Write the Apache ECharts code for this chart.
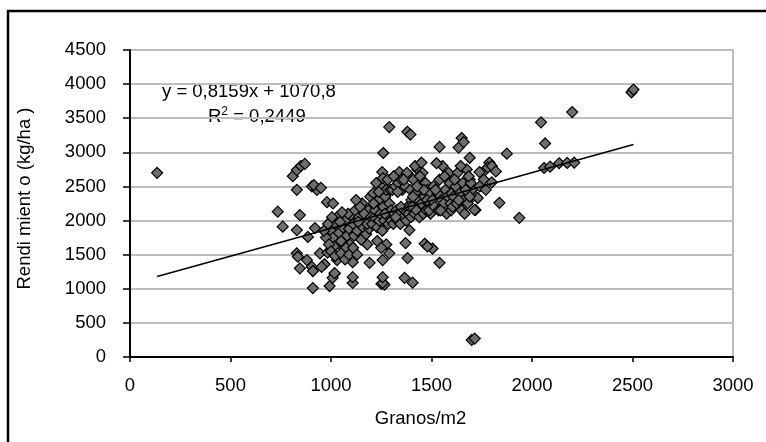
<!DOCTYPE html>
<html>
<head>
<meta charset="utf-8">
<script src="https://cdn.jsdelivr.net/npm/echarts@6/dist/echarts.min.js"></script>
<style>
html,body{margin:0;padding:0;background:#fff;}
#chart{width:766px;height:442px;}
</style>
</head>
<body>
<div id="chart"></div>
<script>
// Granos/m2 (x) and Rendimiento kg/ha (y)
const granos = [
 135,2495,2505,1700,1715,1937,2200,2045,2065,2060,2090,2135,2175,2210,1875,1290,1380,1395,1540,1650,1635,1660,1690,1260,1255,1340,
 810,830,850,870,830,905,930,915,980,1010,950,735,845,760,830,920,885,830,835,880,905,845,910,945,968,1018,910,993,1008,1108,1251,1266,983,953,1108,1192,1018,1030,1060,
 1371,1466,1505,1381,1540,1366,1406,1290,1275,1257,1390,1480,1257,1108,1257,1250,1230,1180,
 1788,1753,1739,1838,1719,1714,1780,1800,1820,1760,1740,1770,1710,1690,1700,1730,1680,1800,
 1000,1010,1020,1030,1040,1050,1060,1070,1080,1090,1100,1095,1045,1075,1085,1015,1055,
 1110,1115,1120,1130,1140,1150,1155,1160,1170,1175,1185,1190,1195,1125,1145,1165,1180,1135,1198,
 1205,1210,1215,1220,1230,1235,1240,1245,1250,1255,1260,1265,1270,1275,1280,1285,1290,1295,1225,1258,1300,1298,1212,1268,1238,1282,
 1305,1310,1315,1320,1325,1330,1335,1340,1345,1350,1355,1360,1365,1370,1375,1380,1385,1390,1395,1400,1312,1348,1378,1398,1322,1332,1362,1392,
 1405,1410,1415,1420,1425,1430,1435,1440,1445,1450,1455,1460,1465,1470,1475,1480,1485,1490,1495,1418,1442,1488,1462,1450,1408,1428,1478,
 1505,1510,1515,1530,1535,1540,1550,1555,1560,1570,1575,1580,1590,1595,1600,1545,1585,1525,1565,1520,1598,
 1605,1610,1620,1625,1630,1640,1650,1655,1660,1670,1675,1680,1690,1695,1615,1645,1665,1635,1685,
 975,990,1000,1020,1050,1070,1090,1110,1130,965,985,1005
];
const rendimiento = [
 2700,3880,3920,250,270,2040,3590,3440,3130,2770,2790,2840,2845,2850,2980,3370,3300,3260,3080,3210,3070,3150,2920,2990,2710,2710,
 2650,2740,2800,2830,2450,2500,2450,2520,2270,2250,2480,2130,2080,1910,1860,1890,1760,1520,1470,1420,1320,1300,1260,1520,1360,1220,1010,1040,1160,1085,1070,1060,1530,1320,1390,1380,1230,1420,1600,
 1670,1660,1590,1450,1380,1160,1090,1520,1650,1085,1860,1620,1420,1170,1170,1600,1700,1650,
 2850,2700,2710,2260,2155,2155,2780,2800,2720,2600,2500,2450,2380,2600,2450,2330,2280,2560,
 1850,1750,1950,2050,1820,1700,1900,2000,1780,1880,2080,1650,1980,1600,2100,1620,2120,
 1950,1780,2150,1850,2050,1720,2250,1900,2000,1800,2150,1880,2350,2300,2200,2100,1950,1980,2050,
 1950,2400,2050,2150,1900,2300,2000,2100,2500,1850,2200,2000,2350,2450,2100,1950,2250,2450,2550,2620,2000,2150,2250,2100,2420,2600,
 2450,1950,2100,2500,2150,2000,2550,2100,1950,2600,2450,2050,2150,2500,2000,2200,2100,2650,2450,2300,2650,2200,2700,2050,2050,2420,2600,2200,
 2200,2600,2100,2400,2150,2750,2300,2050,2500,2250,2700,2100,2350,2550,2150,2450,2250,2400,2100,2800,2650,2150,2450,2850,2350,2500,2300,
 2300,2500,2200,2400,2150,2600,2300,2800,2250,2450,2100,2350,2550,2250,2400,2150,2700,2840,2650,2450,2150,
 2200,2350,2500,2250,2700,2400,2150,2550,2300,2450,2750,2250,2350,2550,2600,2800,2100,2300,2650,
 1750,1650,1550,1480,1520,1430,1500,1600,1500,1850,1950,2050
];
const xTicks = [0,500,1000,1500,2000,2500,3000];
const yTicks = [0,500,1000,1500,2000,2500,3000,3500,4000,4500];
const slope = 0.8159, intercept = 1070.8;
const eqText = 'y = 0,8159x + 1070,8';
const r2Text = '0,2449';

const pts = granos.map((g,i)=>[g, rendimiento[i]]);
const xMin = Math.min(...granos), xMax = Math.max(...granos);
const trend = [[xMin, slope*xMin+intercept],[xMax, slope*xMax+intercept]];

const font = "'Liberation Sans', Arial, sans-serif";
const fs = 18.5;
const chart = echarts.init(document.getElementById('chart'));
chart.setOption({
  animation:false,
  backgroundColor:'#fff',
  grid:{left:130,right:33,top:50,bottom:85,show:true,borderColor:'#a8a8a8',borderWidth:1.5,backgroundColor:'transparent'},
  xAxis:{
    type:'value',min:xTicks[0],max:xTicks[xTicks.length-1],interval:500,
    name:'Granos/m2',nameLocation:'middle',nameGap:52,
    nameTextStyle:{fontFamily:font,fontSize:fs,color:'#000',padding:[0,22,0,0]},
    axisLine:{show:true,onZero:false,lineStyle:{color:'#000',width:2}},
    axisTick:{show:true,length:5,lineStyle:{color:'#000',width:1.5}},
    axisLabel:{fontFamily:font,fontSize:fs,color:'#000',margin:19,formatter:v=>String(v)},
    splitLine:{show:false}
  },
  yAxis:{
    type:'value',min:yTicks[0],max:yTicks[yTicks.length-1],interval:500,
    name:'Rendi mient o (kg/ha )',nameLocation:'middle',nameGap:96,nameRotate:90,
    nameTextStyle:{fontFamily:font,fontSize:fs,color:'#000',padding:[0,0,0,10]},
    axisLine:{show:true,onZero:false,lineStyle:{color:'#000',width:2}},
    axisTick:{show:true,length:7,lineStyle:{color:'#000',width:1.5}},
    axisLabel:{fontFamily:font,fontSize:fs,color:'#000',margin:24,formatter:v=>String(v)},
    splitLine:{show:true,lineStyle:{color:'#bdbdbd',width:2}}
  },
  series:[
    {type:'scatter',data:pts,symbol:'diamond',symbolSize:11,
     itemStyle:{color:'#6e6e6e',borderColor:'#000',borderWidth:1.2,opacity:1},z:3},
    {type:'line',data:trend,symbol:'none',lineStyle:{color:'#000',width:1.5},z:4,silent:true}
  ],
  graphic:[
    {type:'rect',shape:{x:8,y:11,width:900,height:600},style:{fill:'none',stroke:'#000',lineWidth:2.5},silent:true},
    {type:'text',left:162,top:82,style:{text:eqText,font:fs+'px '+font,fill:'#000'}},
    {type:'text',left:208,top:106,style:{text:'{a|R}{s|2}{a| = '+r2Text+'}',
      rich:{a:{fontFamily:font,fontSize:fs,fill:'#000',verticalAlign:'bottom'},s:{fontFamily:font,fontSize:12,fill:'#000',verticalAlign:'top',padding:[0,0,8,0]}}}}
  ]
});
</script>
</body>
</html>
